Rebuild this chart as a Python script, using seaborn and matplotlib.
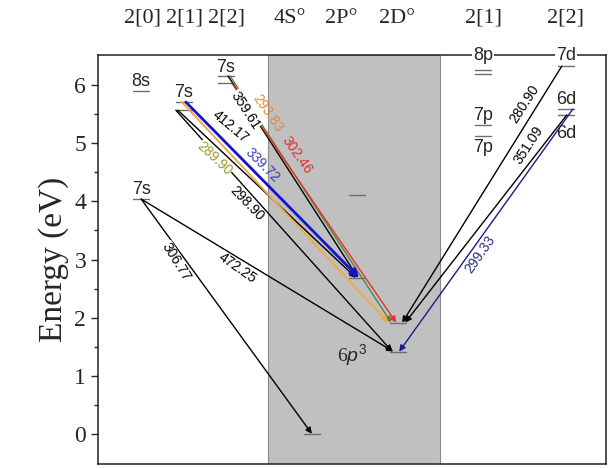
import matplotlib
matplotlib.use("Agg")
import matplotlib.pyplot as plt
import numpy as np
import pandas as pd
import seaborn as sns

# ---------------------------------------------------------------------- #
# Data: Bi I energy levels (eV) and transitions (nm)
# ---------------------------------------------------------------------- #
column_names = ["2[0]", "2[1]", "2[2]", "4S\u00b0", "2P\u00b0", "2D\u00b0", "2[1]", "2[2]"]

level_column = [0, 0, 1, 1, 2, 2, 3, 4, 4, 5, 5, 6, 6, 6, 6, 7, 7, 7]
level_energy = [5.90, 4.04, 5.71, 5.57, 6.16, 6.03, 0.00, 2.685, 4.11,
                1.416, 1.914, 6.27, 6.20, 5.32, 5.12, 6.33, 5.59, 5.49]

label_text = ["8s", "7s", "7s", "7s", "8p", "7d", "7p", "7p", "6d", "6d"]
label_column = [0, 0, 1, 2, 6, 7, 6, 6, 7, 7]
label_energy = [5.90, 4.04, 5.71, 6.16, 6.52, 6.52, 5.32, 5.12, 5.59, 5.49]

trans_wavelength = ["359.61", "293.83", "302.46", "412.17", "339.72", "289.90",
                    "298.90", "306.77", "472.25", "280.90", "351.09", "299.33"]
trans_upper_col = [2, 2, 2, 1, 1, 1, 1, 0, 0, 7, 7, 7]
trans_upper_e = [6.16, 6.16, 6.03, 5.57, 5.71, 5.71, 5.57, 4.04, 4.04, 6.33, 5.49, 5.59]
trans_lower_col = [4, 5, 5, 4, 4, 5, 5, 3, 5, 5, 5, 5]
trans_lower_e = [2.685, 1.914, 1.914, 2.685, 2.685, 1.914, 1.416, 0.0, 1.416,
                 1.914, 1.914, 1.416]

# ---------------------------------------------------------------------- #
# Layout / style
# ---------------------------------------------------------------------- #
PX = 50.8  # pixels per x unit
col_x = [0.85, 1.69, 2.52, 4.21, 5.10, 5.91, 7.58, 9.21]
header_x = [0.87, 1.71, 2.53, 3.78, 4.78, 5.89, 7.59, 9.21]
half_w = 0.16
shade = (3.35, 6.73)
shade_color = "#c0c0c0"

line_color = ["black", "#4f8a3c", "#e8302a", "black", "#1414d0", "#f0a848",
              "black", "black", "black", "black", "black", "#1a1a8c"]
text_color = ["black", "#e0883a", "#e03030", "black", "#3a3ac0", "#9a9a2a",
              "black", "black", "black", "black", "black", "#2a2a80"]
line_width = [1, 1, 1, 1, 2.0, 1.4, 1, 1, 1, 1, 1, 1]
start_dx = [2, 4, 6, -6, 2, -2, -8, 0, 0, -4, 1, 7]       # px
end_dx = [1, -7, -2, -1, 2, -10, -6, 0, -5, 4, 7, 1]       # px
# label centre (x, E) and rotation
lab_pos = [(2.89, 5.57, -57), (3.35, 5.52, -55), (3.92, 4.80, -55),
           (2.60, 5.28, -40), (3.23, 4.62, -45), (2.30, 4.74, -43),
           (2.93, 3.97, -46), (1.54, 2.96, -58), (2.74, 2.85, -35),
           (8.39, 5.67, 57), (8.48, 4.97, 57), (7.52, 3.09, 55)]
# level-name offsets (points) and vertical alignment
name_off = [1, 1, 1, 0, 0, 0, 0.5, -2, 0.5, -7]
name_va = ["bottom", "bottom", "bottom", "bottom", "center", "center",
           "bottom", "top", "bottom", "top"]

sns.set_style("ticks")
plt.rcParams["font.family"] = ["Liberation Serif", "DejaVu Serif"]
plt.rcParams["mathtext.fontset"] = "custom"
plt.rcParams["mathtext.it"] = "Liberation Sans:italic"
plt.rcParams["mathtext.rm"] = "Liberation Sans"

fig = plt.figure(figsize=(6.1, 4.68), dpi=100)
ax = fig.add_axes([98 / 610, 4 / 468, 508 / 610, 409 / 468])
ax.set_xlim(0, 10)
ax.set_ylim(-0.52, 6.52)

# shaded 6p3 region
ax.axvspan(*shade, facecolor=shade_color, edgecolor="#8a8a8a", lw=0.8, zorder=0)

# energy levels
seg = pd.DataFrame({
    "x": np.concatenate([[col_x[c] - half_w, col_x[c] + half_w] for c in level_column]),
    "E": np.repeat(level_energy, 2),
    "level": np.repeat(np.arange(len(level_energy)), 2),
})
sns.lineplot(data=seg, x="x", y="E", units="level", estimator=None,
             color="#6e6e6e", lw=1.0, sort=False, ax=ax, zorder=2)

# transitions
for i, wl in enumerate(trans_wavelength):
    x0 = col_x[trans_upper_col[i]] + start_dx[i] / PX
    x1 = col_x[trans_lower_col[i]] + end_dx[i] / PX
    ms = 12 if line_width[i] > 1.8 else 9
    ax.annotate("", xy=(x1, trans_lower_e[i]), xytext=(x0, trans_upper_e[i]),
                arrowprops=dict(arrowstyle="-|>", color=line_color[i],
                                lw=line_width[i], mutation_scale=ms,
                                shrinkA=0, shrinkB=0),
                zorder=4 if line_width[i] > 1.8 else 3)
    lx, le, rot = lab_pos[i]
    if abs(lx - shade[0]) < 0.3:
        bb = None
    else:
        fc = shade_color if shade[0] < lx < shade[1] else "white"
        bb = dict(facecolor=fc, edgecolor="none", pad=0.2)
    ax.text(lx, le, wl, rotation=rot, ha="center", va="center", fontsize=10,
            color=text_color[i], family="Liberation Sans", bbox=bb, zorder=5)

# level names
for i, t in enumerate(label_text):
    bb = dict(facecolor="white", edgecolor="none", pad=0.5) if name_va[i] == "center" else None
    ax.annotate(t, xy=(col_x[label_column[i]], label_energy[i]),
                xytext=(0, name_off[i]), textcoords="offset points",
                ha="center", va=name_va[i], fontsize=13,
                family="Liberation Sans", bbox=bb, annotation_clip=False, zorder=6)

ax.text(5.0, 1.36, r"6$p^3$", ha="center", va="center", fontsize=14, zorder=6)

# column headers
for hx, h in zip(header_x, column_names):
    ax.text(hx, 7.15, h, ha="center", va="center", fontsize=16, clip_on=False)

ax.set_xticks([])
ax.set_xlabel("")
ax.set_yticks(range(7))
ax.set_yticks(np.arange(0.5, 6.5, 1.0), minor=True)
ax.tick_params(axis="y", which="major", length=5, width=1, labelsize=17, direction="out")
ax.tick_params(axis="y", which="minor", length=3, width=1, direction="out")
ax.set_ylabel("Energy (eV)", fontsize=24, labelpad=4)
for s in ax.spines.values():
    s.set_visible(True)
    s.set_linewidth(1.1)
    s.set_color("#222222")

fig.savefig("out.png", dpi=100)
